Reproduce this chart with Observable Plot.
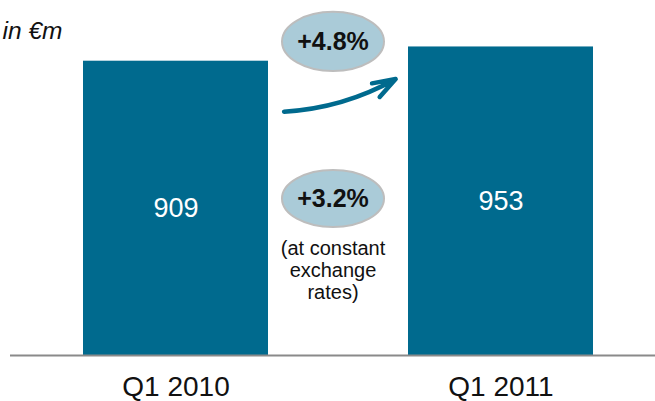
<!DOCTYPE html>
<html>
<head>
<meta charset="utf-8">
<script src="https://cdn.jsdelivr.net/npm/d3@7"></script>
<script src="https://cdn.jsdelivr.net/npm/@observablehq/plot@0.6"></script>
<style>
  html, body { margin: 0; padding: 0; background: #ffffff; }
  #chart svg { display: block; }
</style>
</head>
<body>
<div id="chart"></div>
<script>
// ---- data ----
const categories = ["Q1 2010", "Q1 2011"];
const revenue = [909, 953];
const unitLabel = "in €m";
const growthLabels = ["+4.8%", "+3.2%"];
const growthNote = "(at constant\nexchange\nrates)";

const bars = categories.map((c, i) => ({category: c, value: revenue[i]}));

// ---- styles ----
const BAR = "#006a8e";
const BUBBLE = "#aacbd8";
const FONT = "'Liberation Sans', Arial, Helvetica, sans-serif";

// ellipse symbol for the growth bubbles
const ellipse = (k) => ({
  draw(ctx, size) {
    const rx = Math.sqrt(size / Math.PI), ry = rx * k, c = 0.5523;
    ctx.moveTo(rx, 0);
    ctx.bezierCurveTo(rx, ry * c, rx * c, ry, 0, ry);
    ctx.bezierCurveTo(-rx * c, ry, -rx, ry * c, -rx, 0);
    ctx.bezierCurveTo(-rx, -ry * c, -rx * c, -ry, 0, -ry);
    ctx.bezierCurveTo(rx * c, -ry, rx, -ry * c, rx, 0);
    ctx.closePath();
  }
});

const chart = Plot.plot({
  width: 655,
  height: 401,
  marginLeft: 10,
  marginRight: 0,
  marginTop: 0,
  marginBottom: 46,
  style: {fontFamily: FONT, background: "#ffffff", color: "#111111"},
  x: {domain: categories, range: [82, 594], paddingInner: 0.4294, paddingOuter: 0, axis: null},
  y: {domain: [0, 1000], range: [355, 31.24], axis: null},
  marks: [
    Plot.barY(bars, {x: "category", y: "value", fill: BAR}),
    Plot.ruleY([0], {stroke: "#8a8a8a", strokeWidth: 2}),
    // value labels inside bars
    Plot.text(bars, {x: "category", y: d => d.value / 2, text: d => String(d.value),
      fill: "#ffffff", fontSize: 27, lineAnchor: "middle"}),
    // category labels
    Plot.text(bars, {x: "category", text: "category", frameAnchor: "bottom",
      lineAnchor: "top", dy: 21, fontSize: 28, fill: "#111111"}),
    // unit label
    Plot.text([unitLabel], {text: d => d, frameAnchor: "top-left", textAnchor: "end",
      lineAnchor: "top", dx: 52, dy: 21, fontSize: 24.5, fontStyle: "italic", fill: "#111111"}),
    // growth bubbles
    Plot.dot([growthLabels[0]], {y: 970, frameAnchor: "middle", r: 51, symbol: ellipse(0.58),
      fill: BUBBLE, stroke: "#bdbdbd", strokeWidth: 2}),
    Plot.dot([growthLabels[1]], {y: 485, frameAnchor: "middle", r: 51, symbol: ellipse(0.56),
      fill: BUBBLE, stroke: "#bdbdbd", strokeWidth: 2}),
    Plot.text([growthLabels[0]], {y: 968, frameAnchor: "middle", text: d => d,
      fontSize: 25, fontWeight: "bold", fill: "#111111", lineAnchor: "middle"}),
    Plot.text([growthLabels[1]], {y: 483, frameAnchor: "middle", text: d => d,
      fontSize: 25, fontWeight: "bold", fill: "#111111", lineAnchor: "middle"}),
    Plot.text([growthNote], {y: 359, frameAnchor: "middle", text: d => d,
      fontSize: 20, lineHeight: 1.1, lineAnchor: "top", fill: "#111111"}),
    // growth arrow
    Plot.arrow([0], {
      x1: () => categories[0], y1: 805,
      x2: () => categories[1], y2: 1197,
      bend: -42.4, insetStart: 109.4, insetEnd: 153.1,
      stroke: BAR, strokeWidth: 4.5, headAngle: 38, headLength: 8
    })
  ]
});

document.getElementById("chart").appendChild(chart);
</script>
</body>
</html>
